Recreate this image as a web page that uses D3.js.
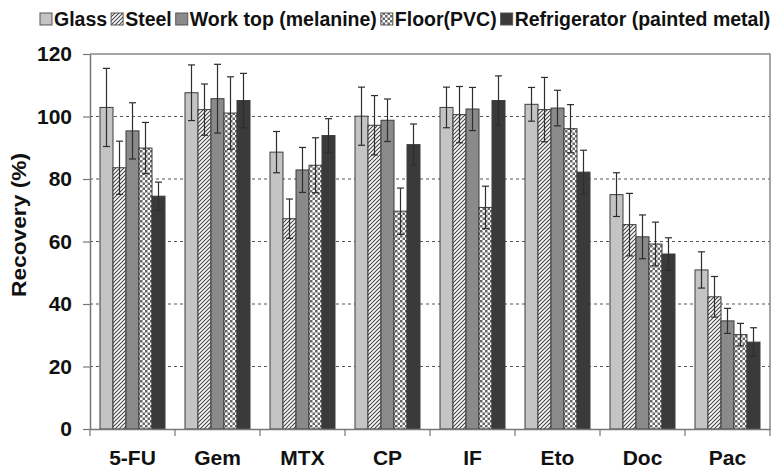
<!DOCTYPE html>
<html>
<head>
<meta charset="utf-8">
<script src="https://cdn.jsdelivr.net/npm/d3@7"></script>
<style>
  body { margin: 0; background: #fff; }
  svg { display: block; font-family: "Liberation Sans", Arial, sans-serif; }
</style>
</head>
<body>
<div id="chart"></div>
<script>
// chart data
const drugs = ["5-FU", "Gem", "MTX", "CP", "IF", "Eto", "Doc", "Pac"];
const surfaces = ["Glass", "Steel", "Work top (melanine)", "Floor(PVC)", "Refrigerator (painted metal)"];

// recovery (%) per surface, in drug order
const glass      = [102.9, 107.6, 88.6, 100.1, 102.9, 103.9, 75.0, 50.9];
const steel      = [83.6, 102.2, 67.3, 97.2, 100.6, 102.2, 65.4, 42.3];
const worktop    = [95.4, 105.7, 82.9, 98.8, 102.4, 102.7, 61.5, 34.6];
const floorPvc   = [89.9, 101.1, 84.4, 69.7, 70.9, 96.1, 59.2, 30.2];
const fridge     = [74.5, 105.1, 93.9, 91.0, 105.1, 82.2, 56.0, 27.8];

// standard deviations
const glassSd    = [12.5, 8.9, 6.6, 9.3, 6.5, 5.4, 7.0, 5.8];
const steelSd    = [8.5, 8.2, 6.3, 9.5, 9.0, 10.3, 10.0, 6.5];
const worktopSd  = [9.0, 11.0, 7.2, 6.8, 6.9, 5.7, 7.0, 4.0];
const floorSd    = [8.2, 11.6, 8.8, 7.4, 6.8, 7.7, 7.0, 3.6];
const fridgeSd   = [4.5, 8.7, 5.4, 6.6, 7.9, 7.0, 5.2, 4.6];

const yTicks = [0, 20, 40, 60, 80, 100, 120];

const values = [glass, steel, worktop, floorPvc, fridge];
const sds = [glassSd, steelSd, worktopSd, floorSd, fridgeSd];
const fills = ["#c4c4c4", "url(#hatch)", "#8a8a8a", "url(#checker)", "#3a3a3a"];

const width = 774, height = 470;
const plotLeft = 90, plotRight = 770, plotTop = 54, plotBottom = 429;

const svg = d3.select("#chart").append("svg")
  .attr("width", width)
  .attr("height", height);

// patterns for steel / floor
const defs = svg.append("defs");
const hatch = defs.append("pattern")
  .attr("id", "hatch")
  .attr("patternUnits", "userSpaceOnUse")
  .attr("width", 4).attr("height", 4);
hatch.append("rect").attr("width", 4).attr("height", 4).attr("fill", "#fff");
hatch.append("path")
  .attr("d", "M-1,1 l2,-2 M0,4 l4,-4 M3,5 l2,-2")
  .attr("stroke", "#444").attr("stroke-width", 1.1);

const checker = defs.append("pattern")
  .attr("id", "checker")
  .attr("patternUnits", "userSpaceOnUse")
  .attr("width", 5).attr("height", 5);
checker.append("rect").attr("width", 5).attr("height", 5).attr("fill", "#fff");
checker.append("rect").attr("width", 2.5).attr("height", 2.5).attr("fill", "#666");
checker.append("rect").attr("x", 2.5).attr("y", 2.5).attr("width", 2.5).attr("height", 2.5).attr("fill", "#666");

// scales
const x = d3.scaleBand().domain(drugs).range([plotLeft, plotRight])
  .paddingInner(20 / 85).paddingOuter(10 / 85);
const xs = d3.scaleBand().domain(d3.range(surfaces.length)).range([0, x.bandwidth()]);
const y = d3.scaleLinear().domain([0, 120]).range([plotBottom, plotTop]);

// grid lines
svg.append("g")
  .selectAll("line")
  .data(yTicks.filter(t => t > 0 && t < 120))
  .join("line")
    .attr("x1", plotLeft).attr("x2", plotRight)
    .attr("y1", d => y(d)).attr("y2", d => y(d))
    .attr("stroke", "#555")
    .attr("stroke-width", 1.2)
    .attr("stroke-dasharray", "3,3");

// frame: top and right
svg.append("path")
  .attr("d", `M${plotLeft},${y(120)}H${plotRight}V${plotBottom}`)
  .attr("fill", "none")
  .attr("stroke", "#888")
  .attr("stroke-width", 1.5);

// bars
const groups = svg.append("g")
  .selectAll("g")
  .data(drugs)
  .join("g")
    .attr("transform", d => `translate(${x(d)},0)`);

const barData = (d, i) => values.map((arr, s) => ({ s, v: arr[i], sd: sds[s][i] }));

groups.selectAll("rect")
  .data(barData)
  .join("rect")
    .attr("x", d => xs(d.s))
    .attr("width", xs.bandwidth())
    .attr("y", d => y(d.v))
    .attr("height", d => y(0) - y(d.v))
    .attr("fill", d => fills[d.s])
    .attr("stroke", "#3c3c3c")
    .attr("stroke-width", 1);

// error bars
const err = groups.selectAll("g.err")
  .data(barData)
  .join("g")
    .attr("class", "err")
    .attr("transform", d => `translate(${xs(d.s) + xs.bandwidth() / 2},0)`)
    .attr("stroke", "#2e2e2e")
    .attr("stroke-width", 1.2);
err.append("line")
  .attr("y1", d => y(d.v + d.sd)).attr("y2", d => y(d.v - d.sd));
err.append("line")
  .attr("x1", -3.5).attr("x2", 3.5)
  .attr("y1", d => y(d.v + d.sd)).attr("y2", d => y(d.v + d.sd));
err.append("line")
  .attr("x1", -3.5).attr("x2", 3.5)
  .attr("y1", d => y(d.v - d.sd)).attr("y2", d => y(d.v - d.sd));

// y axis
const yAxis = svg.append("g")
  .attr("transform", `translate(${plotLeft},0)`)
  .call(d3.axisLeft(y).tickValues(yTicks).tickSize(7).tickPadding(11).tickSizeOuter(0));
yAxis.select(".domain").attr("stroke", "#777").attr("stroke-width", 1.5);
yAxis.selectAll(".tick line").attr("stroke", "#777").attr("stroke-width", 1.2);
yAxis.selectAll("text")
  .attr("fill", "#111")
  .style("font-size", "21px")
  .style("font-weight", "bold");

// x axis
const xAxis = svg.append("g")
  .attr("transform", `translate(0,${plotBottom})`)
  .call(d3.axisBottom(x).tickSize(0).tickPadding(21).tickSizeOuter(0));
xAxis.select(".domain").attr("stroke", "#777").attr("stroke-width", 1.5);
xAxis.selectAll("text")
  .attr("fill", "#111")
  .style("font-size", "21px")
  .style("font-weight", "bold");

// category boundary ticks
const gap = x.step() - x.bandwidth();
const bounds = drugs.map(d => x(d) - gap / 2).concat([plotRight]);
xAxis.append("g")
  .selectAll("line")
  .data(bounds)
  .join("line")
    .attr("x1", d => d).attr("x2", d => d)
    .attr("y1", 0).attr("y2", 7)
    .attr("stroke", "#777")
    .attr("stroke-width", 1.2);

// y title
svg.append("text")
  .attr("transform", "translate(26,225) rotate(-90)")
  .attr("text-anchor", "middle")
  .attr("textLength", 144)
  .attr("lengthAdjust", "spacingAndGlyphs")
  .style("font-size", "20px")
  .style("font-weight", "bold")
  .attr("fill", "#111")
  .text("Recovery (%)");

// legend
const legend = svg.append("g").attr("transform", "translate(40,0)");
let lx = 0;
surfaces.forEach((name, i) => {
  legend.append("rect")
    .attr("x", lx).attr("y", 13)
    .attr("width", 12).attr("height", 12)
    .attr("fill", fills[i])
    .attr("stroke", "#555")
    .attr("stroke-width", 1);
  const t = legend.append("text")
    .attr("x", lx + 14).attr("y", 26)
    .style("font-size", "19.5px")
    .style("font-weight", "bold")
    .attr("fill", "#111")
    .text(name);
  lx += 14 + t.node().getComputedTextLength() + 4;
});
</script>
</body>
</html>
